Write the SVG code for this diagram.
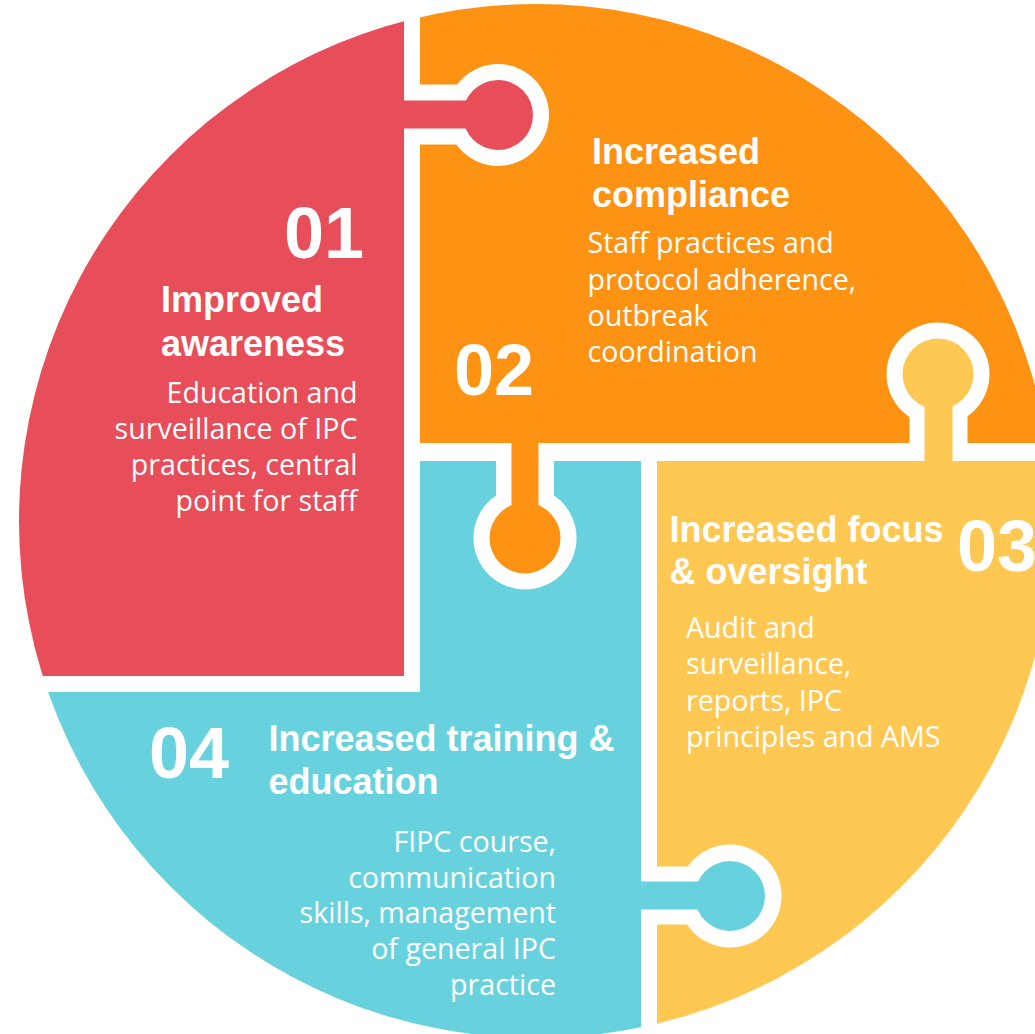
<svg xmlns="http://www.w3.org/2000/svg" xmlns:xlink="http://www.w3.org/1999/xlink" width="1035" height="1034" viewBox="0 0 1035 1034">
  <style>
    .num { font-family: "Liberation Sans", Arial, sans-serif; font-weight: bold; font-size: 72px; fill: #ffffff; }
    .head { font-family: "Liberation Sans", Arial, sans-serif; font-weight: bold; font-size: 36px; fill: #ffffff; }
    .body { font-family: "Open Sans", "Noto Sans", sans-serif; font-size: 28.6px; fill: #ffffff; }
    .end { text-anchor: end; }
    .red { fill: #E84D5A; }
    .orange { fill: #FE9212; }
    .yellow { fill: #FFC852; }
    .blue { fill: #67D2DE; }
    .cut { fill: #000000; }
  </style>
  <defs>
    <clipPath id="disc">
      <circle cx="536" cy="521" r="517"/>
    </clipPath>
    <g id="tab1-out">
      <rect x="404" y="84.5" width="94" height="60"/>
      <circle cx="498" cy="115" r="51"/>
    </g>
    <g id="tab2-out">
      <rect x="496" y="443" width="58" height="95"/>
      <circle cx="525" cy="538" r="51.5"/>
    </g>
    <g id="tab3-out">
      <rect x="909.5" y="374" width="58" height="87"/>
      <circle cx="938" cy="374" r="51.5"/>
    </g>
    <g id="tab4-out">
      <rect x="641" y="866.5" width="89" height="58"/>
      <circle cx="730" cy="896" r="51.5"/>
    </g>
    <mask id="m-orange" maskUnits="userSpaceOnUse" x="0" y="0" width="1035" height="1034">
      <rect x="0" y="0" width="1035" height="1034" fill="#ffffff"/>
      <use xlink:href="#tab1-out" class="cut"/>
      <use xlink:href="#tab3-out" class="cut"/>
    </mask>
    <mask id="m-blue" maskUnits="userSpaceOnUse" x="0" y="0" width="1035" height="1034">
      <rect x="0" y="0" width="1035" height="1034" fill="#ffffff"/>
      <use xlink:href="#tab2-out" class="cut"/>
    </mask>
    <mask id="m-yellow" maskUnits="userSpaceOnUse" x="0" y="0" width="1035" height="1034">
      <rect x="0" y="0" width="1035" height="1034" fill="#ffffff"/>
      <use xlink:href="#tab4-out" class="cut"/>
    </mask>
  </defs>

  <rect x="0" y="0" width="1035" height="1034" fill="#ffffff"/>

  <g id="node-01">
    <g clip-path="url(#disc)">
      <rect class="red" x="0" y="0" width="404" height="676"/>
      <rect class="red" x="398" y="100.5" width="100" height="28"/>
      <circle class="red" cx="498" cy="115" r="35"/>
    </g>
    <text class="num" x="284" y="258">01</text>
    <text class="head" x="161" y="312">Improved</text>
    <text class="head" x="161" y="356">awareness</text>
    <text class="body end" x="357.5" y="403">Education and</text>
    <text class="body end" x="357.5" y="439">surveillance of IPC</text>
    <text class="body end" x="357.5" y="475">practices, central</text>
    <text class="body end" x="357.5" y="511">point for staff</text>
  </g>

  <g id="node-02">
    <g clip-path="url(#disc)">
      <rect class="orange" x="420" y="0" width="615" height="443" mask="url(#m-orange)"/>
      <rect class="orange" x="511.5" y="438" width="27" height="100"/>
      <circle class="orange" cx="525" cy="538" r="35.5"/>
    </g>
    <text class="num" x="454" y="395">02</text>
    <text class="head" x="592" y="164">Increased</text>
    <text class="head" x="592" y="207">compliance</text>
    <text class="body" x="587.5" y="253">Staff practices and</text>
    <text class="body" x="587.5" y="289.5">protocol adherence,</text>
    <text class="body" x="587.5" y="325.5">outbreak</text>
    <text class="body" x="587.5" y="361.5">coordination</text>
  </g>

  <g id="node-03">
    <g clip-path="url(#disc)">
      <rect class="yellow" x="657" y="461" width="378" height="573" mask="url(#m-yellow)"/>
      <rect class="yellow" x="924.5" y="374" width="28" height="92"/>
      <circle class="yellow" cx="938" cy="374" r="35.5"/>
    </g>
    <text class="num" x="957" y="571">03</text>
    <text class="head" x="669.5" y="541.5">Increased focus</text>
    <text class="head" x="669.5" y="583.5">&amp; oversight</text>
    <text class="body" x="686" y="638">Audit and</text>
    <text class="body" x="686" y="674">surveillance,</text>
    <text class="body" x="686" y="710.5">reports, IPC</text>
    <text class="body" x="686" y="746.5">principles and AMS</text>
  </g>

  <g id="node-04">
    <g clip-path="url(#disc)">
      <path class="blue" d="M0,692 H420 V461 H641 V1034 H0 Z" mask="url(#m-blue)"/>
      <rect class="blue" x="636" y="881.5" width="94" height="28"/>
      <circle class="blue" cx="730" cy="896" r="35"/>
    </g>
    <text class="num" x="149" y="778">04</text>
    <text class="head" x="268.5" y="750.5">Increased training &amp;</text>
    <text class="head" x="268.5" y="794">education</text>
    <text class="body end" x="556" y="851.5">FIPC course,</text>
    <text class="body end" x="556" y="887.5">communication</text>
    <text class="body end" x="556" y="923">skills, management</text>
    <text class="body end" x="556" y="959">of general IPC</text>
    <text class="body end" x="556" y="995">practice</text>
  </g>

  <g id="connectors"></g>
</svg>
